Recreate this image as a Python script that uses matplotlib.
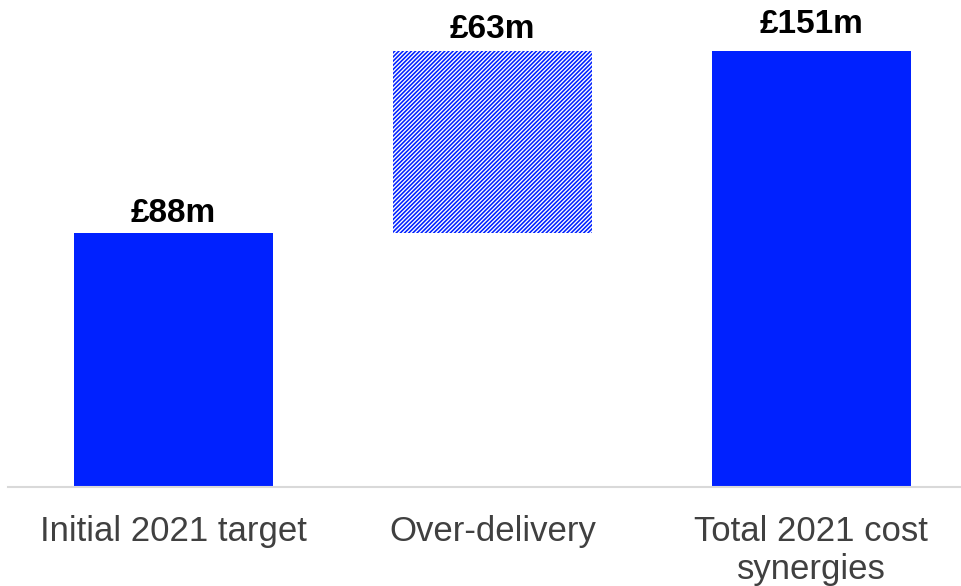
import matplotlib.pyplot as plt

plt.rcParams['font.family'] = ['Liberation Sans', 'DejaVu Sans']
plt.rcParams['hatch.linewidth'] = 1.15

categories = ['Initial 2021 target', 'Over-delivery', 'Total 2021 cost\nsynergies']
bottoms = [0, 88, 0]
heights = [88, 63, 151]
labels = ['£88m', '£63m', '£151m']

blue = '#0021FF'

fig = plt.figure(figsize=(9.61, 5.86), dpi=100)
ax = fig.add_axes([8 / 961, 99 / 586, 953 / 961, 487 / 586])

x = range(len(categories))
for i in x:
    if i == 1:
        ax.bar(i, heights[i], bottom=bottoms[i], width=0.625, color='white',
               edgecolor=blue, hatch='////////', linewidth=0)
    else:
        ax.bar(i, heights[i], bottom=bottoms[i], width=0.625, color=blue, linewidth=0)

label_pad = [3, 4.5, 8]
for i in x:
    ax.annotate(labels[i], (i, bottoms[i] + heights[i]), xytext=(0, label_pad[i]),
                textcoords='offset points', ha='center', va='bottom',
                fontsize=24, fontweight='bold', color='black', annotation_clip=False)

ax.set_xlim(-0.519, 2.469)
ax.set_ylim(0, 168.7)
ax.set_xticks(list(x))
ax.set_xticklabels(categories, fontsize=25, color='#404040', linespacing=1.22)
ax.tick_params(axis='x', length=0, pad=20)
ax.set_yticks([])

for side in ['top', 'right', 'left']:
    ax.spines[side].set_visible(False)
ax.spines['bottom'].set_color('#D9D9D9')
ax.spines['bottom'].set_linewidth(1.5)

fig.savefig('out.png', dpi=100)
